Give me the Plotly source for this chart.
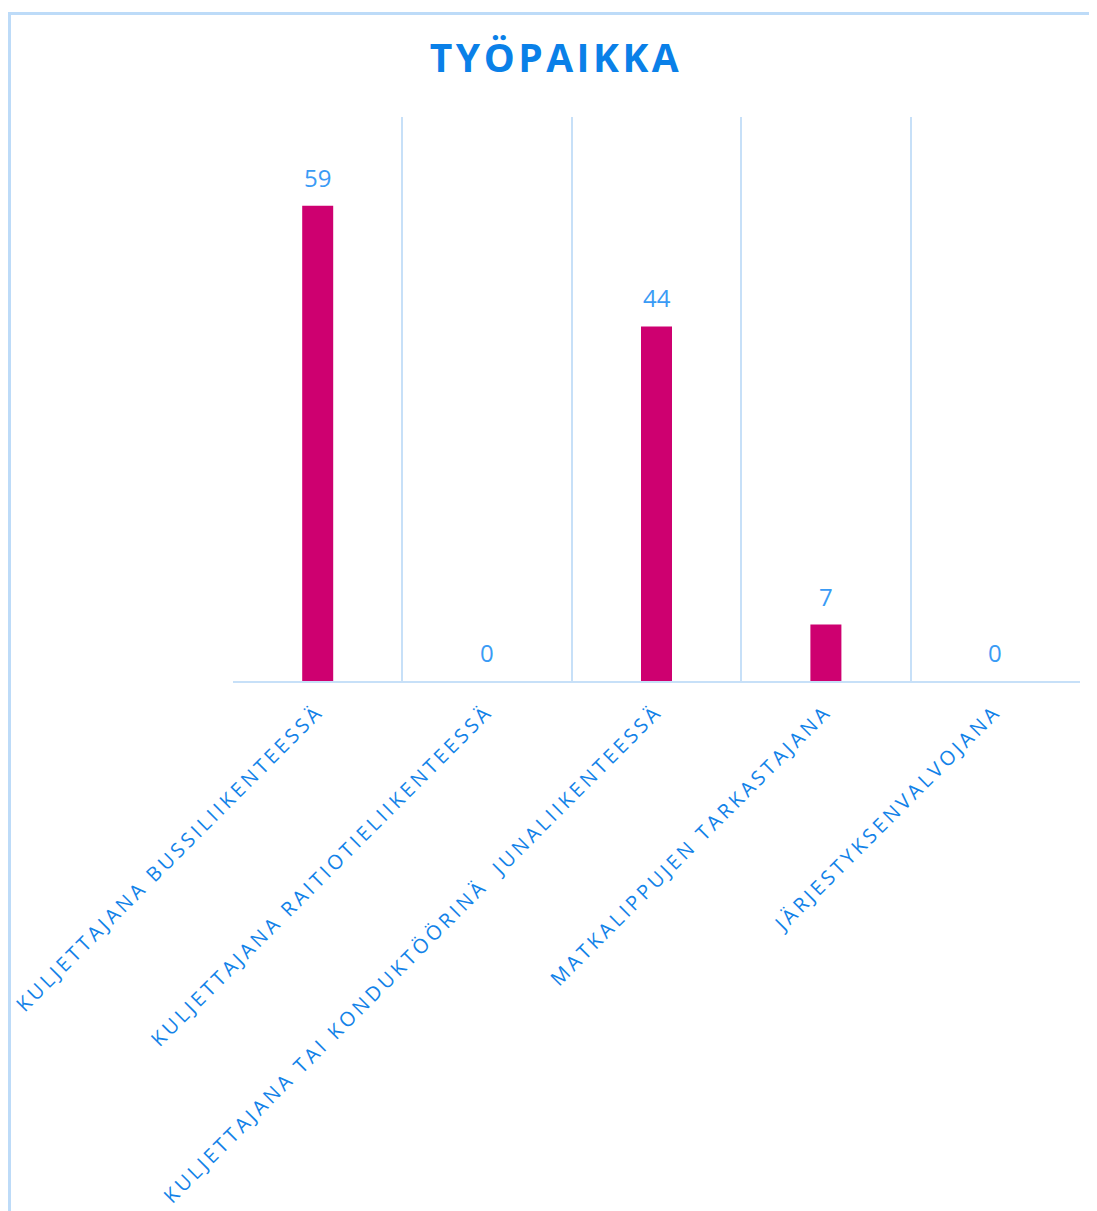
import plotly.graph_objects as go

categories = [
    "KULJETTAJANA BUSSILIIKENTEESSÄ",
    "KULJETTAJANA RAITIOTIELIIKENTEESSÄ",
    "KULJETTAJANA TAI KONDUKTÖÖRINÄ  JUNALIIKENTEESSÄ",
    "MATKALIPPUJEN TARKASTAJANA",
    "JÄRJESTYKSENVALVOJANA",
]
values = [59, 0, 44, 7, 0]
title_text = "TYÖPAIKKA"

BAR = "#CE0070"
GRID = "#C7E0F8"
TICK = "#1282E8"
VAL = "#3A9BF5"
TITLE = "#0A80E8"
FONT = "Open Sans"

# the page body adds an 8px offset, so figure pixels = page pixels - 8
W, H = 1097, 1211
L, R, T, B = 225, 25, 109, 538
pw, ph = W - L - R, H - T - B

fig = go.Figure(
    go.Bar(
        x=categories,
        y=values,
        marker=dict(color=BAR, line=dict(width=0)),
        hoverinfo="x+y",
    )
)

for c, v in zip(categories, values):
    fig.add_annotation(
        x=c, y=v, text=str(v), showarrow=False,
        yanchor="bottom", yshift=10,
        font=dict(family=FONT, size=24, color=VAL),
    )

# outer light-blue frame (extends past the page on right/bottom)
fig.add_shape(
    type="rect", xref="paper", yref="paper",
    x0=(1.5 - L) / pw, x1=(W + 30 - L) / pw,
    y0=-(B + 30) / ph, y1=(H - B - 5.5) / ph,
    line=dict(color="#BDDBF8", width=3), fillcolor="rgba(0,0,0,0)",
    layer="below",
)

fig.update_layout(
    width=W, height=H,
    margin=dict(l=L, r=R, t=T, b=B, autoexpand=False),
    paper_bgcolor="white", plot_bgcolor="white",
    bargap=0.817,
    showlegend=False,
    font=dict(family=FONT, color=TICK),
    title=dict(
        text=f"<b>{title_text}</b>",
        x=548 / W, xref="container", xanchor="center",
        y=1 - 50 / H, yref="container", yanchor="middle",
        font=dict(family=FONT, size=39, color=TITLE),
    ),
    xaxis=dict(
        type="category",
        tickson="boundaries",
        showgrid=True, gridcolor=GRID, gridwidth=2,
        showline=True, linecolor=GRID, linewidth=2,
        ticks="", tickangle=-45,
        tickfont=dict(family=FONT, size=20, color=TICK),
        ticklabelstandoff=9,
        fixedrange=True,
    ),
    yaxis=dict(
        range=[0, 70],
        showgrid=False, zeroline=False,
        showticklabels=False, ticks="",
        showline=False,
        fixedrange=True,
    ),
)

post = """
var gd = document.getElementById('{plot_id}');
function ls(){
  gd.querySelectorAll('.xtick text').forEach(function(t){ t.style.letterSpacing = '3.4px'; });
  gd.querySelectorAll('.gtitle').forEach(function(t){ t.style.letterSpacing = '3.5px'; });
}
ls();
gd.on('plotly_afterplot', ls);
"""

fig.write_html("out.html", post_script=post)
